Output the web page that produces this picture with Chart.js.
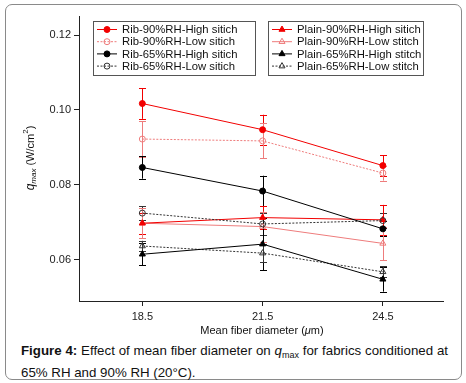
<!DOCTYPE html>
<html>
<head>
<meta charset="utf-8">
<script src="https://cdn.jsdelivr.net/npm/chart.js@4.4.0/dist/chart.umd.min.js"></script>
<style>
  body { margin: 0; background: #fff; font-family: "Liberation Sans", Arial, sans-serif; }
  #frame { position: absolute; left: 5px; top: 4px; width: 455px; height: 374px; border: 1px solid #8a8a8a; border-radius: 7px; }
  #chart { position: absolute; left: 0; top: 0; }
  #caption { position: absolute; left: 21px; top: 342px; width: 427px; font-size: 13.3px; line-height: 17px; text-align: justify; text-align-last: left; color: #111; }
  #caption sub { font-size: 9px; vertical-align: -3px; }
</style>
</head>
<body>
<div id="frame"></div>
<canvas id="chart" width="466" height="340"></canvas>
<div id="caption"><b>Figure 4:</b> Effect of mean fiber diameter on <i>q</i><sub>max</sub> for fabrics conditioned at 65% RH and 90% RH (20°C).</div>
<script>
// x positions and tick labels
const diameters = [18.5, 21.5, 24.5];
const xTicks = [18.5, 21.5, 24.5];
const yTicks = [0.06, 0.08, 0.10, 0.12];

const names = [
    'Rib-90%RH-High sitich', 'Rib-90%RH-Low sitich', 'Rib-65%RH-High sitich', 'Rib-65%RH-Low sitich',
    'Plain-90%RH-High sitich', 'Plain-90%RH-Low stitch', 'Plain-65%RH-High stitch', 'Plain-65%RH-Low stitch'
];

// qmax values (W/cm2)
const rib90High = [0.1017, 0.0947, 0.0851];
const rib90Low = [0.0922, 0.0917, 0.0831];
const rib65High = [0.0846, 0.0783, 0.0682];
const rib65Low = [0.0724, 0.0695, 0.0704];
const plain90High = [0.0697, 0.0712, 0.0706];
const plain90Low = [0.0697, 0.0688, 0.0643];
const plain65High = [0.0614, 0.0641, 0.0547];
const plain65Low = [0.0636, 0.0617, 0.0567];

// error bar half lengths
const rib90HighErr = [0.0041, 0.0040, 0.0028];
const rib90LowErr = [0.0048, 0.0047, 0.0020];
const rib65HighErr = [0.0030, 0.0041, 0.0020];
const rib65LowErr = [0.0018, 0.0030, 0.0020];
const plain90HighErr = [0.0028, 0.0031, 0.0040];
const plain90LowErr = [0.0040, 0.0040, 0.0045];
const plain65HighErr = [0.0030, 0.0070, 0.0033];
const plain65LowErr = [0.0014, 0.0025, 0.0015];

const RED = '#f20000';
const PINK = '#ee7c7c';
const BLACK = '#000000';
const GREY = '#333333';

function pts(vals) {
    return vals.map((v, i) => ({ x: diameters[i], y: v }));
}

function series(label, vals, errs, color, style, filled, dash, width) {
    return {
        label: label,
        data: pts(vals),
        errors: errs,
        borderColor: color,
        backgroundColor: filled ? color : 'rgba(0,0,0,0)',
        pointBackgroundColor: filled ? color : 'rgba(0,0,0,0)',
        pointBorderColor: color,
        pointStyle: style,
        pointRadius: style === 'triangle' ? 3.5 : 3,
        pointBorderWidth: 1,
        borderWidth: width,
        borderDash: dash,
        tension: 0
    };
}

const datasets = [
    series(names[0], rib90High, rib90HighErr, RED, 'circle', true, [], 1),
    series(names[1], rib90Low, rib90LowErr, PINK, 'circle', false, [2, 1.5], 1),
    series(names[2], rib65High, rib65HighErr, BLACK, 'circle', true, [], 1),
    series(names[3], rib65Low, rib65LowErr, GREY, 'circle', false, [2, 1.5], 1),
    series(names[4], plain90High, plain90HighErr, RED, 'triangle', true, [], 1),
    series(names[5], plain90Low, plain90LowErr, PINK, 'triangle', false, [], 1),
    series(names[6], plain65High, plain65HighErr, BLACK, 'triangle', true, [], 1),
    series(names[7], plain65Low, plain65LowErr, GREY, 'triangle', false, [2, 1.5], 1)
];

// error bars, drawn under the markers
const errorBars = {
    id: 'errorBars',
    beforeDatasetsDraw(chart) {
        const ctx = chart.ctx;
        const xs = chart.scales.x, ys = chart.scales.y;
        chart.data.datasets.forEach(ds => {
            ctx.save();
            ctx.strokeStyle = ds.borderColor;
            ctx.lineWidth = 1;
            ds.data.forEach((p, i) => {
                const e = ds.errors[i];
                const x = Math.round(xs.getPixelForValue(p.x)) + 0.5;
                const y1 = ys.getPixelForValue(p.y + e);
                const y2 = ys.getPixelForValue(p.y - e);
                ctx.beginPath();
                ctx.moveTo(x, y1); ctx.lineTo(x, y2);
                ctx.moveTo(x - 3.5, Math.round(y1) + 0.5); ctx.lineTo(x + 3.5, Math.round(y1) + 0.5);
                ctx.moveTo(x - 3.5, Math.round(y2) + 0.5); ctx.lineTo(x + 3.5, Math.round(y2) + 0.5);
                ctx.stroke();
            });
            ctx.restore();
        });
    }
};

// two boxed legends and the axis titles
const decorations = {
    id: 'decorations',
    afterDraw(chart) {
        const ctx = chart.ctx;
        const boxes = [{ x: 93, items: [0, 1, 2, 3], w: 162 }, { x: 268, items: [4, 5, 6, 7], w: 155 }];
        ctx.save();
        boxes.forEach(b => {
            ctx.fillStyle = '#fff';
            ctx.fillRect(b.x, 21, b.w, 54);
            ctx.strokeStyle = '#555';
            ctx.lineWidth = 1;
            ctx.strokeRect(b.x + 0.5, 21.5, b.w, 54);
            b.items.forEach((k, r) => {
                const ds = chart.data.datasets[k];
                const y = 29.5 + r * 12.2;
                ctx.save();
                ctx.strokeStyle = ds.borderColor;
                ctx.lineWidth = 1;
                ctx.setLineDash(ds.borderDash);
                ctx.beginPath();
                ctx.moveTo(b.x + 4, y); ctx.lineTo(b.x + 24, y);
                ctx.stroke();
                ctx.setLineDash([]);
                ctx.fillStyle = ds.pointBackgroundColor;
                Chart.helpers.drawPoint(ctx, { pointStyle: ds.pointStyle, radius: ds.pointRadius, borderWidth: 1, rotation: 0 }, b.x + 14, y);
                ctx.restore();
                ctx.fillStyle = '#111';
                ctx.font = '11.3px "Liberation Sans", Arial, sans-serif';
                ctx.textBaseline = 'middle';
                ctx.fillText(ds.label, b.x + 29, y + 0.5);
            });
        });

        // x title
        ctx.fillStyle = '#111';
        ctx.textBaseline = 'middle';
        const a = 'Mean fiber diameter (', mu = 'μ', c = 'm)';
        ctx.font = '11px "Liberation Sans", Arial, sans-serif';
        const wa = ctx.measureText(a).width, wc = ctx.measureText(c).width;
        ctx.font = 'italic 11px "Liberation Sans", Arial, sans-serif';
        const wm = ctx.measureText(mu).width;
        let x0 = 262 - (wa + wm + wc) / 2;
        ctx.font = '11px "Liberation Sans", Arial, sans-serif';
        ctx.fillText(a, x0, 331);
        ctx.font = 'italic 11px "Liberation Sans", Arial, sans-serif';
        ctx.fillText(mu, x0 + wa, 331);
        ctx.font = '11px "Liberation Sans", Arial, sans-serif';
        ctx.fillText(c, x0 + wa + wm, 331);

        // y title, rotated
        ctx.translate(31, 158);
        ctx.rotate(-Math.PI / 2);
        const parts = [
            { t: 'q', f: 'italic 12px', dy: 0 },
            { t: 'max', f: 'italic 8px', dy: 3 },
            { t: ' (W/cm', f: '11px', dy: 0 },
            { t: '2', f: '8px', dy: -5 },
            { t: ')', f: '11px', dy: 0 }
        ];
        let tot = 0;
        parts.forEach(p => { ctx.font = p.f + ' "Liberation Sans", Arial, sans-serif'; p.w = ctx.measureText(p.t).width; tot += p.w; });
        let px = -tot / 2;
        parts.forEach(p => {
            ctx.font = p.f + ' "Liberation Sans", Arial, sans-serif';
            ctx.fillText(p.t, px, p.dy);
            px += p.w;
        });
        ctx.restore();
    }
};

new Chart(document.getElementById('chart'), {
    type: 'line',
    data: { datasets: datasets },
    plugins: [errorBars, decorations],
    options: {
        responsive: false,
        animation: false,
        events: [],
        layout: { padding: { top: 16, right: 23, left: 0, bottom: 0 } },
        plugins: { legend: { display: false }, tooltip: { enabled: false } },
        scales: {
            x: {
                type: 'linear',
                min: 16.92,
                max: 26.0,
                afterFit(s) { s.height = 39; },
                afterBuildTicks(s) { s.ticks = xTicks.map(v => ({ value: v })); },
                grid: { display: true, drawOnChartArea: false, drawTicks: true, tickLength: 5, color: '#222' },
                border: { display: true, color: '#222', width: 1 },
                ticks: {
                    color: '#222',
                    padding: 4,
                    maxRotation: 0,
                    font: { family: '"Liberation Sans", Arial, sans-serif', size: 11 },
                    callback: v => v.toFixed(1)
                }
            },
            y: {
                min: 0.0489,
                max: 0.1251,
                afterFit(s) { s.width = 79; },
                afterBuildTicks(s) { s.ticks = yTicks.map(v => ({ value: v })); },
                grid: { display: true, drawOnChartArea: false, drawTicks: true, tickLength: 5, color: '#222' },
                border: { display: true, color: '#222', width: 1 },
                ticks: {
                    color: '#222',
                    padding: 3,
                    font: { family: '"Liberation Sans", Arial, sans-serif', size: 11 },
                    callback: v => v.toFixed(2)
                }
            }
        }
    }
});
</script>
</body>
</html>
